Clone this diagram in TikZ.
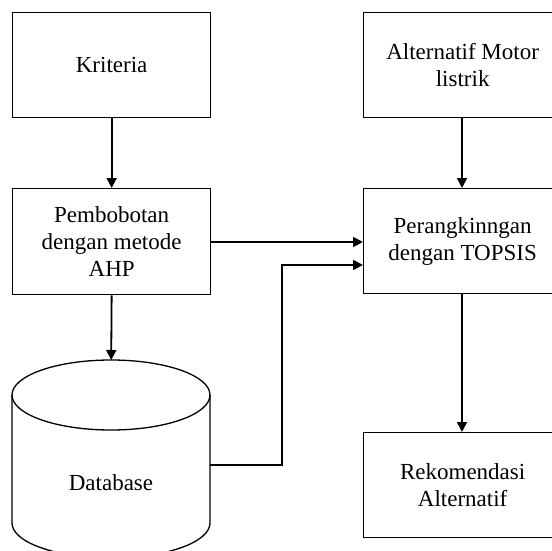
\documentclass[tikz,border=0pt]{standalone}
\usepackage{fontspec}
\setmainfont{Liberation Serif}
\usetikzlibrary{arrows.meta,calc}
\begin{document}
\begin{tikzpicture}[x=1pt,y=-1pt,
  box/.style={draw,line width=1.3pt,minimum width=198pt,minimum height=105pt,inner sep=0pt,
    align=center,font=\fontsize{23}{27}\selectfont,anchor=north west},
  conn/.style={line width=1.8pt,-{Triangle[length=10pt,width=10pt]}},
  plain/.style={line width=1.8pt}]
\useasboundingbox (0,0) rectangle (552,551);
\clip (0,0) rectangle (552,551);
\node[box] (krit) at (12,12) {Kriteria};
\node[box,minimum height=106pt] (pemb) at (12,188) {Pembobotan\\dengan metode\\AHP};
\node[box] (alt) at (363,12) {Alternatif Motor\\listrik};
\node[box] (rank) at (363,188) {Perangkinngan\\dengan TOPSIS};
\node[box] (rek) at (363,432) {Rekomendasi\\Alternatif};
% database cylinder
\draw[line width=1.3pt] (111,395) ellipse [x radius=99, y radius=35];
\draw[line width=1.3pt] (12,395) -- (12,523) arc[start angle=180,end angle=0,x radius=99,y radius=35] -- (210,395);
\node[minimum width=198pt,minimum height=198pt,inner sep=0pt,anchor=north west] (db) at (12,360) {};
\node[font=\fontsize{23}{27}\selectfont] (dbtext) at (111,483) {Database};
\coordinate (dbout) at (210,465);
\coordinate (bend) at (282,465);
% connectors
\draw[conn] (krit.south) -- (pemb.north);
\draw[conn] (pemb.south) -- (db.north);
\draw[conn] (alt.south -| 462,0) -- (rank.north -| 462,0);
\draw[conn] (rank.south -| 462,0) -- (rek.north -| 462,0);
\draw[conn] (pemb.east |- 0,242) -- (rank.west |- 0,242);
\draw[conn] (dbout) -- (bend) -- (282,265) -- (rank.west |- 0,265);
\end{tikzpicture}
\end{document}
